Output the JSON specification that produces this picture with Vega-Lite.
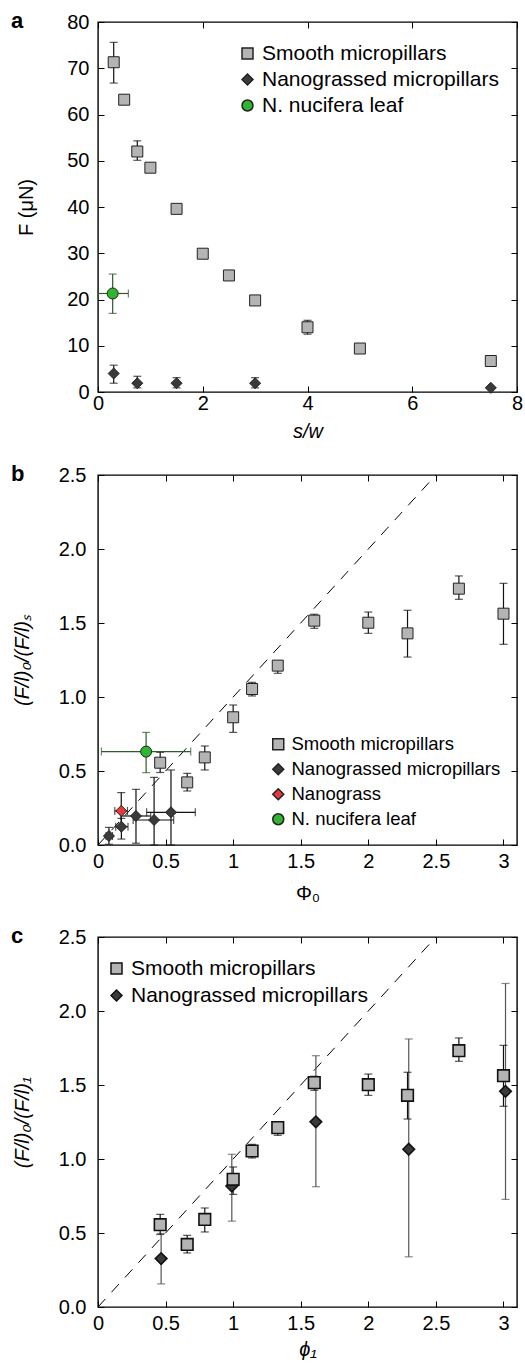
{
  "$schema": "https://vega.github.io/schema/vega-lite/v6.json",
  "padding": {"left": 10, "top": 9, "right": 0, "bottom": 0},
  "background": "white",
  "datasets": {
    "pa": [
      {"series": "Smooth micropillars", "x": 0.3, "y": 71.3, "ylo": 66.8, "yhi": 75.6},
      {"series": "Smooth micropillars", "x": 0.5, "y": 63.2},
      {"series": "Smooth micropillars", "x": 0.75, "y": 52.0, "ylo": 50.1, "yhi": 54.3},
      {"series": "Smooth micropillars", "x": 1.0, "y": 48.5},
      {"series": "Smooth micropillars", "x": 1.5, "y": 39.6},
      {"series": "Smooth micropillars", "x": 2.0, "y": 29.9},
      {"series": "Smooth micropillars", "x": 2.5, "y": 25.2},
      {"series": "Smooth micropillars", "x": 3.0, "y": 19.8},
      {"series": "Smooth micropillars", "x": 4.0, "y": 14.0, "ylo": 12.5, "yhi": 15.5},
      {"series": "Smooth micropillars", "x": 5.0, "y": 9.4},
      {"series": "Smooth micropillars", "x": 7.5, "y": 6.7},
      {"series": "Nanograssed micropillars", "x": 0.3, "y": 4.0, "ylo": 1.9, "yhi": 5.8},
      {"series": "Nanograssed micropillars", "x": 0.75, "y": 1.9, "ylo": 0.9, "yhi": 3.4},
      {"series": "Nanograssed micropillars", "x": 1.5, "y": 1.9, "ylo": 0.9, "yhi": 3.1},
      {"series": "Nanograssed micropillars", "x": 3.0, "y": 1.9, "ylo": 0.9, "yhi": 3.1},
      {"series": "Nanograssed micropillars", "x": 7.5, "y": 0.9},
      {"series": "N. nucifera leaf", "x": 0.28, "y": 21.3, "ylo": 17.0, "yhi": 25.5, "xlo": 0.0, "xhi": 0.58}
    ],
    "pb": [
      {"series": "Smooth micropillars", "x": 0.46, "y": 0.556, "ylo": 0.49, "yhi": 0.626},
      {"series": "Smooth micropillars", "x": 0.66, "y": 0.423, "ylo": 0.365, "yhi": 0.484},
      {"series": "Smooth micropillars", "x": 0.79, "y": 0.592, "ylo": 0.507, "yhi": 0.669},
      {"series": "Smooth micropillars", "x": 1.0, "y": 0.863, "ylo": 0.761, "yhi": 0.946},
      {"series": "Smooth micropillars", "x": 1.14, "y": 1.054, "ylo": 1.007, "yhi": 1.099},
      {"series": "Smooth micropillars", "x": 1.33, "y": 1.212, "ylo": 1.16, "yhi": 1.236},
      {"series": "Smooth micropillars", "x": 1.6, "y": 1.516, "ylo": 1.464, "yhi": 1.559},
      {"series": "Smooth micropillars", "x": 2.0, "y": 1.502, "ylo": 1.43, "yhi": 1.574},
      {"series": "Smooth micropillars", "x": 2.29, "y": 1.43, "ylo": 1.27, "yhi": 1.586},
      {"series": "Smooth micropillars", "x": 2.67, "y": 1.732, "ylo": 1.66, "yhi": 1.818},
      {"series": "Smooth micropillars", "x": 3.0, "y": 1.563, "ylo": 1.356, "yhi": 1.768},
      {"series": "Nanograssed micropillars", "x": 0.081, "y": 0.061, "ylo": 0.005, "yhi": 0.119, "xlo": 0.06, "xhi": 0.107},
      {"series": "Nanograssed micropillars", "x": 0.173, "y": 0.124, "ylo": 0.04, "yhi": 0.18, "xlo": 0.131, "xhi": 0.222},
      {"series": "Nanograssed micropillars", "x": 0.281, "y": 0.196, "ylo": 0.012, "yhi": 0.376, "xlo": 0.17, "xhi": 0.39},
      {"series": "Nanograssed micropillars", "x": 0.415, "y": 0.169, "ylo": 0.0, "yhi": 0.457, "xlo": 0.26, "xhi": 0.56},
      {"series": "Nanograssed micropillars", "x": 0.54, "y": 0.221, "ylo": 0.0, "yhi": 0.507, "xlo": 0.36, "xhi": 0.72},
      {"series": "Nanograss", "x": 0.172, "y": 0.23, "ylo": 0.113, "yhi": 0.354, "xlo": 0.124, "xhi": 0.218},
      {"series": "N. nucifera leaf", "x": 0.356, "y": 0.631, "ylo": 0.489, "yhi": 0.761, "xlo": 0.025, "xhi": 0.686}
    ],
    "pc": [
      {"series": "Nanograssed micropillars", "x": 0.467, "y": 0.327, "ylo": 0.156, "yhi": 0.497},
      {"series": "Nanograssed micropillars", "x": 0.99, "y": 0.817, "ylo": 0.58, "yhi": 1.032},
      {"series": "Nanograssed micropillars", "x": 1.612, "y": 1.251, "ylo": 0.813, "yhi": 1.698},
      {"series": "Nanograssed micropillars", "x": 2.299, "y": 1.066, "ylo": 0.339, "yhi": 1.811},
      {"series": "Nanograssed micropillars", "x": 3.015, "y": 1.457, "ylo": 0.727, "yhi": 2.186},
      {"series": "Smooth micropillars", "x": 0.46, "y": 0.556, "ylo": 0.49, "yhi": 0.626},
      {"series": "Smooth micropillars", "x": 0.66, "y": 0.423, "ylo": 0.365, "yhi": 0.484},
      {"series": "Smooth micropillars", "x": 0.79, "y": 0.592, "ylo": 0.507, "yhi": 0.669},
      {"series": "Smooth micropillars", "x": 1.0, "y": 0.863, "ylo": 0.761, "yhi": 0.946},
      {"series": "Smooth micropillars", "x": 1.14, "y": 1.054, "ylo": 1.007, "yhi": 1.099},
      {"series": "Smooth micropillars", "x": 1.33, "y": 1.212, "ylo": 1.16, "yhi": 1.236},
      {"series": "Smooth micropillars", "x": 1.6, "y": 1.516, "ylo": 1.464, "yhi": 1.559},
      {"series": "Smooth micropillars", "x": 2.0, "y": 1.502, "ylo": 1.43, "yhi": 1.574},
      {"series": "Smooth micropillars", "x": 2.29, "y": 1.43, "ylo": 1.27, "yhi": 1.586},
      {"series": "Smooth micropillars", "x": 2.67, "y": 1.732, "ylo": 1.66, "yhi": 1.818},
      {"series": "Smooth micropillars", "x": 3.0, "y": 1.563, "ylo": 1.356, "yhi": 1.768}
    ],
    "diag": [
      {"x": 0, "y": 0},
      {"x": 2.5, "y": 2.5}
    ]
  },
  "spacing": 20,
  "vconcat": [
    {
      "width": 419,
      "height": 370,
      "title": {"text": "a"},
      "data": {"name": "pa"},
      "encoding": {
        "x": {"field": "x", "type": "quantitative", "scale": {"domain": [0, 8], "nice": false}, "axis": null},
        "y": {"field": "y", "type": "quantitative", "scale": {"domain": [0, 80], "nice": false}, "axis": null}
      },
      "layer": [
        {
          "transform": [{"filter": "isValid(datum.ylo) && datum.series != 'N. nucifera leaf'"}],
          "mark": {"type": "errorbar", "ticks": {"size": 8}, "thickness": 1.2, "color": "#111111"},
          "encoding": {
            "y": {"field": "ylo", "type": "quantitative", "scale": {"domain": [0, 80], "nice": false}, "axis": null},
            "y2": {"field": "yhi"}
          }
        },
        {
          "transform": [{"filter": "datum.series == 'N. nucifera leaf'"}],
          "mark": {"type": "errorbar", "ticks": {"size": 8}, "thickness": 1.2, "color": "#2f5a2f"},
          "encoding": {
            "y": {"field": "ylo", "type": "quantitative", "scale": {"domain": [0, 80], "nice": false}, "axis": null},
            "y2": {"field": "yhi"}
          }
        },
        {
          "transform": [{"filter": "datum.series == 'N. nucifera leaf'"}],
          "mark": {"type": "errorbar", "ticks": {"size": 8}, "thickness": 1.2, "color": "#2f5a2f"},
          "encoding": {
            "x": {"field": "xlo", "type": "quantitative", "scale": {"domain": [0, 8], "nice": false}, "axis": null},
            "x2": {"field": "xhi"}
          }
        },
        {
          "mark": {"type": "point", "filled": true, "size": 121, "stroke": "#222222", "strokeWidth": 1, "opacity": 1},
          "encoding": {
            "x": {"field": "x", "type": "quantitative", "scale": {"domain": [0, 8], "nice": false},
              "axis": {"title": "s/w", "titleFontStyle": "italic", "values": [0, 2, 4, 6, 8], "labelPadding": 7, "titlePadding": 8}},
            "y": {"field": "y", "type": "quantitative", "scale": {"domain": [0, 80], "nice": false},
              "axis": {"title": "F (μN)", "values": [0, 10, 20, 30, 40, 50, 60, 70, 80], "labelPadding": 15, "titlePadding": 30}},
            "fill": {"field": "series", "type": "nominal",
              "scale": {"domain": ["Smooth micropillars", "Nanograssed micropillars", "Nanograss", "N. nucifera leaf"], "range": ["#b4b4b4", "#3a3a3a", "#e5383b", "#2fb52f"]},
              "legend": {"title": " ", "titleFontSize": 1, "titlePadding": 2, "orient": "top-right", "offset": 18, "labelFontSize": 21, "rowPadding": 4,
                "values": ["Smooth micropillars", "Nanograssed micropillars", "N. nucifera leaf"],
                "encode": {"symbols": {"stroke": {"value": "#222222"}, "strokeWidth": {"value": 1}}}}},
            "shape": {"field": "series", "type": "nominal",
              "scale": {"domain": ["Smooth micropillars", "Nanograssed micropillars", "Nanograss", "N. nucifera leaf"], "range": ["square", "diamond", "diamond", "circle"]},
              "legend": {"title": " ", "titleFontSize": 1, "titlePadding": 2, "orient": "top-right", "offset": 18, "labelFontSize": 21, "rowPadding": 4,
                "values": ["Smooth micropillars", "Nanograssed micropillars", "N. nucifera leaf"],
                "encode": {"symbols": {"stroke": {"value": "#222222"}, "strokeWidth": {"value": 1}}}}}
          }
        },
        {
          "mark": {"type": "point", "opacity": 0},
          "encoding": {
            "x": {"field": "x", "type": "quantitative", "scale": {"domain": [0, 8], "nice": false},
              "axis": {"orient": "top", "labels": false, "title": null, "values": [0, 2, 4, 6, 8]}},
            "y": {"field": "y", "type": "quantitative", "scale": {"domain": [0, 80], "nice": false},
              "axis": {"orient": "right", "labels": false, "title": null, "values": [0, 10, 20, 30, 40, 50, 60, 70, 80]}}
          }
        }
      ],
      "resolve": {"axis": {"x": "independent", "y": "independent"}}
    },
    {
      "width": 419,
      "height": 370,
      "title": {"text": "b"},
      "data": {"name": "pb"},
      "encoding": {
        "x": {"field": "x", "type": "quantitative", "scale": {"domain": [0, 3.1], "nice": false}, "axis": null},
        "y": {"field": "y", "type": "quantitative", "scale": {"domain": [0, 2.5], "nice": false}, "axis": null}
      },
      "layer": [
        {
          "data": {"name": "diag"},
          "mark": {"type": "line", "strokeDash": [11, 9], "color": "#000000", "strokeWidth": 1, "clip": true}
        },
        {
          "transform": [{"filter": "isValid(datum.ylo) && datum.series != 'N. nucifera leaf'"}],
          "mark": {"type": "errorbar", "ticks": {"size": 8}, "thickness": 1.2, "color": "#111111"},
          "encoding": {
            "y": {"field": "ylo", "type": "quantitative", "scale": {"domain": [0, 2.5], "nice": false}, "axis": null},
            "y2": {"field": "yhi"}
          }
        },
        {
          "transform": [{"filter": "isValid(datum.xlo) && datum.series != 'N. nucifera leaf'"}],
          "mark": {"type": "errorbar", "ticks": {"size": 8}, "thickness": 1.2, "color": "#111111"},
          "encoding": {
            "x": {"field": "xlo", "type": "quantitative", "scale": {"domain": [0, 3.1], "nice": false}, "axis": null},
            "x2": {"field": "xhi"}
          }
        },
        {
          "transform": [{"filter": "datum.series == 'N. nucifera leaf'"}],
          "mark": {"type": "errorbar", "ticks": {"size": 8}, "thickness": 1.2, "color": "#2f5a2f"},
          "encoding": {
            "y": {"field": "ylo", "type": "quantitative", "scale": {"domain": [0, 2.5], "nice": false}, "axis": null},
            "y2": {"field": "yhi"}
          }
        },
        {
          "transform": [{"filter": "datum.series == 'N. nucifera leaf'"}],
          "mark": {"type": "errorbar", "ticks": {"size": 8}, "thickness": 1.2, "color": "#2f5a2f"},
          "encoding": {
            "x": {"field": "xlo", "type": "quantitative", "scale": {"domain": [0, 3.1], "nice": false}, "axis": null},
            "x2": {"field": "xhi"}
          }
        },
        {
          "mark": {"type": "point", "filled": true, "size": 121, "stroke": "#222222", "strokeWidth": 1, "opacity": 1},
          "encoding": {
            "x": {"field": "x", "type": "quantitative", "scale": {"domain": [0, 3.1], "nice": false},
              "axis": {"title": "Φ₀", "values": [0, 0.5, 1, 1.5, 2, 2.5, 3], "format": "~g", "labelPadding": 12, "titlePadding": 12}},
            "y": {"field": "y", "type": "quantitative", "scale": {"domain": [0, 2.5], "nice": false},
              "axis": {"title": "(F/l)₀/(F/l)ₛ", "titleFontStyle": "italic", "values": [0, 0.5, 1, 1.5, 2, 2.5], "format": ".1f", "labelPadding": 18, "titlePadding": 26}},
            "fill": {"field": "series", "type": "nominal",
              "scale": {"domain": ["Smooth micropillars", "Nanograssed micropillars", "Nanograss", "N. nucifera leaf"], "range": ["#b4b4b4", "#3a3a3a", "#e5383b", "#2fb52f"]},
              "legend": {"title": null, "orient": "bottom-right", "offset": 16, "labelFontSize": 18.5, "rowPadding": 6,
                "values": ["Smooth micropillars", "Nanograssed micropillars", "Nanograss", "N. nucifera leaf"],
                "encode": {"symbols": {"stroke": {"value": "#222222"}, "strokeWidth": {"value": 1}}}}},
            "shape": {"field": "series", "type": "nominal",
              "scale": {"domain": ["Smooth micropillars", "Nanograssed micropillars", "Nanograss", "N. nucifera leaf"], "range": ["square", "diamond", "diamond", "circle"]},
              "legend": {"title": null, "orient": "bottom-right", "offset": 16, "labelFontSize": 18.5, "rowPadding": 6,
                "values": ["Smooth micropillars", "Nanograssed micropillars", "Nanograss", "N. nucifera leaf"],
                "encode": {"symbols": {"stroke": {"value": "#222222"}, "strokeWidth": {"value": 1}}}}}
          }
        },
        {
          "mark": {"type": "point", "opacity": 0},
          "encoding": {
            "x": {"field": "x", "type": "quantitative", "scale": {"domain": [0, 3.1], "nice": false},
              "axis": {"orient": "top", "labels": false, "title": null, "values": [0, 0.5, 1, 1.5, 2, 2.5, 3]}},
            "y": {"field": "y", "type": "quantitative", "scale": {"domain": [0, 2.5], "nice": false},
              "axis": {"orient": "right", "labels": false, "title": null, "values": [0, 0.5, 1, 1.5, 2, 2.5]}}
          }
        }
      ],
      "resolve": {"axis": {"x": "independent", "y": "independent"}}
    },
    {
      "width": 419,
      "height": 370,
      "title": {"text": "c"},
      "data": {"name": "pc"},
      "encoding": {
        "x": {"field": "x", "type": "quantitative", "scale": {"domain": [0, 3.1], "nice": false}, "axis": null},
        "y": {"field": "y", "type": "quantitative", "scale": {"domain": [0, 2.5], "nice": false}, "axis": null}
      },
      "layer": [
        {
          "data": {"name": "diag"},
          "mark": {"type": "line", "strokeDash": [11, 9], "color": "#000000", "strokeWidth": 1, "clip": true}
        },
        {
          "transform": [{"filter": "datum.series == 'Nanograssed micropillars'"}],
          "mark": {"type": "errorbar", "ticks": {"size": 8}, "thickness": 1.2, "color": "#555555"},
          "encoding": {
            "y": {"field": "ylo", "type": "quantitative", "scale": {"domain": [0, 2.5], "nice": false}, "axis": null},
            "y2": {"field": "yhi"}
          }
        },
        {
          "transform": [{"filter": "datum.series == 'Smooth micropillars'"}],
          "mark": {"type": "errorbar", "ticks": {"size": 8}, "thickness": 1.2, "color": "#111111"},
          "encoding": {
            "y": {"field": "ylo", "type": "quantitative", "scale": {"domain": [0, 2.5], "nice": false}, "axis": null},
            "y2": {"field": "yhi"}
          }
        },
        {
          "mark": {"type": "point", "filled": true, "size": 135, "stroke": "#111111", "strokeWidth": 1.6, "opacity": 1},
          "encoding": {
            "x": {"field": "x", "type": "quantitative", "scale": {"domain": [0, 3.1], "nice": false},
              "axis": {"title": "ϕ₁", "titleFontStyle": "italic", "values": [0, 0.5, 1, 1.5, 2, 2.5, 3], "format": "~g", "labelPadding": 12, "titlePadding": 6}},
            "y": {"field": "y", "type": "quantitative", "scale": {"domain": [0, 2.5], "nice": false},
              "axis": {"title": "(F/l)₀/(F/l)₁", "titleFontStyle": "italic", "values": [0, 0.5, 1, 1.5, 2, 2.5], "format": ".1f", "labelPadding": 18, "titlePadding": 26}},
            "fill": {"field": "series", "type": "nominal",
              "scale": {"domain": ["Smooth micropillars", "Nanograssed micropillars", "Nanograss", "N. nucifera leaf"], "range": ["#b4b4b4", "#3a3a3a", "#e5383b", "#2fb52f"]},
              "legend": {"title": " ", "titleFontSize": 7, "titlePadding": 6, "orient": "top-left", "offset": 8, "labelFontSize": 21, "rowPadding": 5,
                "values": ["Smooth micropillars", "Nanograssed micropillars"],
                "encode": {"symbols": {"stroke": {"value": "#222222"}, "strokeWidth": {"value": 1}}}}},
            "shape": {"field": "series", "type": "nominal",
              "scale": {"domain": ["Smooth micropillars", "Nanograssed micropillars", "Nanograss", "N. nucifera leaf"], "range": ["square", "diamond", "diamond", "circle"]},
              "legend": {"title": " ", "titleFontSize": 7, "titlePadding": 6, "orient": "top-left", "offset": 8, "labelFontSize": 21, "rowPadding": 5,
                "values": ["Smooth micropillars", "Nanograssed micropillars"],
                "encode": {"symbols": {"stroke": {"value": "#222222"}, "strokeWidth": {"value": 1}}}}}
          }
        },
        {
          "mark": {"type": "point", "opacity": 0},
          "encoding": {
            "x": {"field": "x", "type": "quantitative", "scale": {"domain": [0, 3.1], "nice": false},
              "axis": {"orient": "top", "labels": false, "title": null, "values": [0, 0.5, 1, 1.5, 2, 2.5, 3]}},
            "y": {"field": "y", "type": "quantitative", "scale": {"domain": [0, 2.5], "nice": false},
              "axis": {"orient": "right", "labels": false, "title": null, "values": [0, 0.5, 1, 1.5, 2, 2.5]}}
          }
        }
      ],
      "resolve": {"axis": {"x": "independent", "y": "independent"}}
    }
  ],
  "config": {
    "font": "Liberation Sans",
    "view": {"stroke": "#000000", "strokeWidth": 1.4},
    "axis": {
      "domain": false, "grid": false, "tickColor": "#000000", "tickSize": -6, "tickWidth": 1,
      "labelFont": "Liberation Sans", "labelFontSize": 20, "labelColor": "#000000", "labelFlush": false,
      "titleFont": "Liberation Sans", "titleFontSize": 20, "titleFontWeight": "normal", "titleColor": "#000000"
    },
    "legend": {
      "labelFont": "Liberation Sans", "labelFontSize": 20, "labelColor": "#000000", "labelLimit": 400,
      "symbolSize": 121, "rowPadding": 5, "padding": 0
    },
    "title": {
      "anchor": "start", "frame": "group", "fontSize": 22, "fontWeight": "bold", "font": "Liberation Sans",
      "color": "#000000", "dx": -87, "offset": -21, "baseline": "alphabetic"
    }
  }
}
